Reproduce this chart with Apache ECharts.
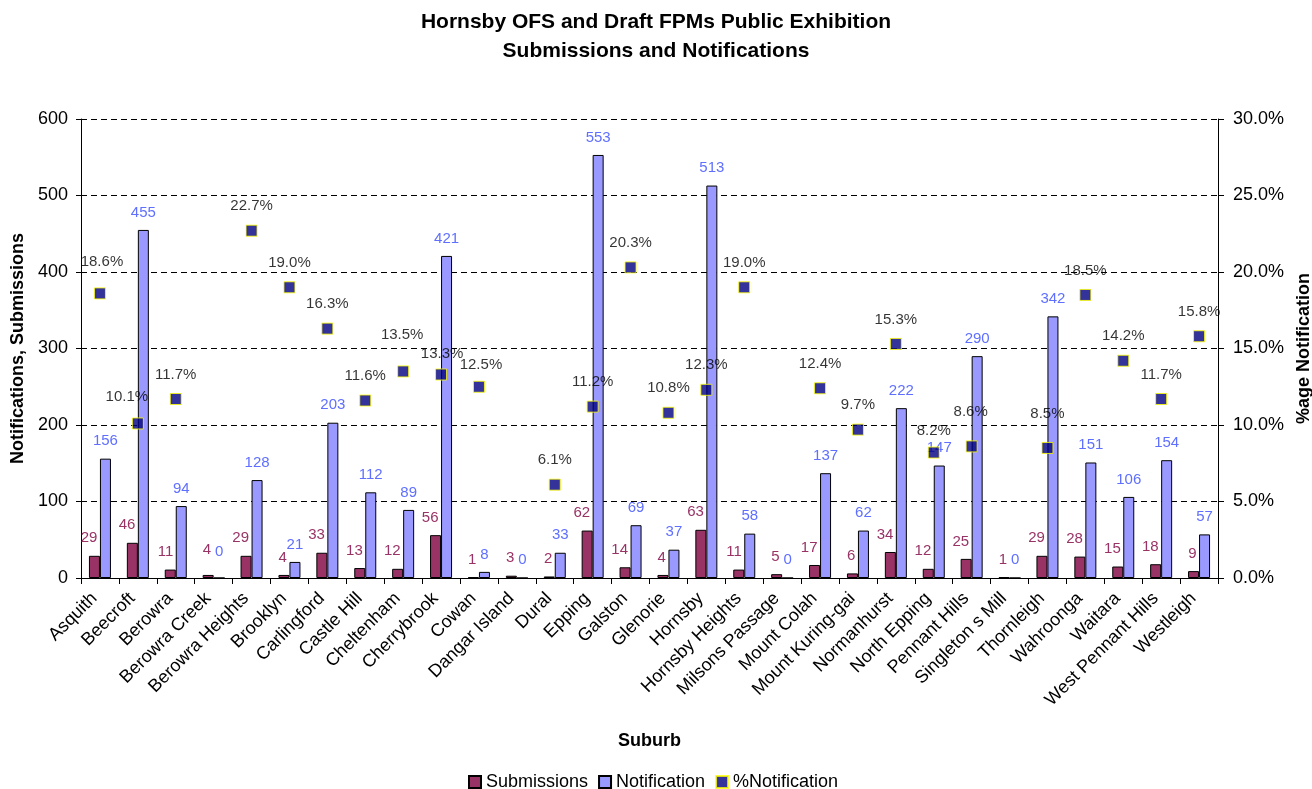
<!DOCTYPE html>
<html>
<head>
<meta charset="utf-8">
<script src="https://cdn.jsdelivr.net/npm/echarts@6/dist/echarts.min.js"></script>
<style>
html,body{margin:0;padding:0;background:#fff;}
#chart{width:1312px;height:789px;}
</style>
</head>
<body>
<div id="chart"></div>
<script>
const categories = ['Asquith','Beecroft','Berowra','Berowra Creek','Berowra Heights','Brooklyn','Carlingford','Castle Hill','Cheltenham','Cherrybrook','Cowan','Dangar Island','Dural','Epping','Galston','Glenorie','Hornsby','Hornsby Heights','Milsons Passage','Mount Colah','Mount Kuring-gai','Normanhurst','North Epping','Pennant Hills','Singleton s Mill','Thornleigh','Wahroonga','Waitara','West Pennant Hills','Westleigh'];
const submissions = [29,46,11,4,29,4,33,13,12,56,1,3,2,62,14,4,63,11,5,17,6,34,12,25,1,29,28,15,18,9];
const notifications = [156,455,94,0,128,21,203,112,89,421,8,0,33,553,69,37,513,58,0,137,62,222,147,290,0,342,151,106,154,57];
const pctNotification = [18.6,10.1,11.7,null,22.7,19.0,16.3,11.6,13.5,13.3,12.5,null,6.1,11.2,20.3,10.8,12.3,19.0,null,12.4,9.7,15.3,8.2,8.6,null,8.5,18.5,14.2,11.7,15.8];
const leftAxisRange = [0, 600, 100];
const rightAxisRange = [0, 30, 5];

// label nudges (style only)
const pctLabelShift = {0:[2,-7],1:[-11,-2],8:[-1,-12],9:[1,4],10:[2,3],22:[0,3],23:[-1,-10],25:[0,-10]};
const barLabelShift = {3:-8};

const FONT = 'Liberation Sans, Arial, sans-serif';

const subData = submissions.map((v,i)=> barLabelShift[i] ? {value:v, label:{offset:[3, barLabelShift[i]]}} : v);
const notData = notifications.map((v,i)=> barLabelShift[i] ? {value:v, label:{offset:[0, barLabelShift[i]]}} : v);
const pctData = pctNotification.map((v,i)=> v==null ? '-' : (pctLabelShift[i] ? {value:v, label:{offset:pctLabelShift[i]}} : v));

const chart = echarts.init(document.getElementById('chart'), null, {renderer:'canvas'});
chart.setOption({
  backgroundColor:'#ffffff',
  animation:false,
  textStyle:{fontFamily:FONT},
  title:{
    text:'Hornsby OFS and Draft FPMs Public Exhibition\nSubmissions and Notifications',
    left:'center', top:3,
    textStyle:{fontFamily:FONT,fontSize:21,fontWeight:'bold',color:'#000',lineHeight:29}
  },
  legend:{
    left:463, top:768, itemWidth:12, itemHeight:12, itemGap:10,
    textStyle:{fontFamily:FONT,fontSize:18,color:'#000'},
    data:[
      {name:'Submissions', icon:'rect'},
      {name:'Notification', icon:'rect'},
      {name:'%Notification', icon:'rect'}
    ]
  },
  grid:{left:81,right:94,top:119,bottom:211,containLabel:false,outerBoundsMode:'none'},
  xAxis:{
    type:'category', data:categories,
    name:'Suburb', nameLocation:'middle', nameGap:154,
    nameTextStyle:{fontFamily:FONT,fontSize:18,fontWeight:'bold',color:'#000'},
    axisLine:{show:true,lineStyle:{color:'#000',width:1}},
    axisTick:{show:true,length:6,lineStyle:{color:'#000'}},
    axisLabel:{interval:0,rotate:45,margin:12,padding:[0,8,0,0],fontFamily:FONT,fontSize:18,color:'#000'},
    splitLine:{show:false}
  },
  yAxis:[
    {
      type:'value', min:leftAxisRange[0], max:leftAxisRange[1], interval:leftAxisRange[2],
      name:'Notifications, Submissions', nameLocation:'middle', nameGap:54,
      nameTextStyle:{fontFamily:FONT,fontSize:18,fontWeight:'bold',color:'#000'},
      axisLine:{show:true,lineStyle:{color:'#000',width:1}},
      axisTick:{show:true,length:5,lineStyle:{color:'#000'}},
      axisLabel:{margin:13,fontFamily:FONT,fontSize:18,color:'#000'},
      splitLine:{show:true,lineStyle:{color:'#000',type:[6,4],width:1}}
    },
    {
      type:'value', min:rightAxisRange[0], max:rightAxisRange[1], interval:rightAxisRange[2],
      position:'right',
      name:'%age Notification', nameLocation:'middle', nameGap:76,
      nameTextStyle:{fontFamily:FONT,fontSize:18,fontWeight:'bold',color:'#000'},
      axisLine:{show:true,lineStyle:{color:'#000',width:1}},
      axisTick:{show:true,length:6,lineStyle:{color:'#000'}},
      axisLabel:{margin:15,fontFamily:FONT,fontSize:18,color:'#000',formatter:v=>v.toFixed(1)+'%'},
      splitLine:{show:false}
    }
  ],
  series:[
    {
      name:'Submissions', type:'bar', data:subData, barWidth:11, barGap:'0%',
      itemStyle:{color:'#993366',borderColor:'#000',borderWidth:1},
      label:{show:true,position:'top',distance:10,align:'right',offset:[3,0],fontFamily:FONT,fontSize:15,color:'#993366'}
    },
    {
      name:'Notification', type:'bar', data:notData, barWidth:11, barGap:'0%',
      itemStyle:{color:'#9999ff',borderColor:'#000',borderWidth:1},
      label:{show:true,position:'top',distance:10,fontFamily:FONT,fontSize:15,color:'#5f6fff'}
    },
    {
      name:'%Notification', type:'scatter', yAxisIndex:1, data:pctData,
      symbol:'rect', symbolSize:11, z:5,
      itemStyle:{color:'#000080',borderColor:'#ffff00',borderWidth:1},
      label:{show:true,position:'top',distance:11,fontFamily:FONT,fontSize:15,color:'#000',formatter:p=>Number(p.value).toFixed(1)+'%'}
    }
  ]
});
</script>
</body>
</html>
